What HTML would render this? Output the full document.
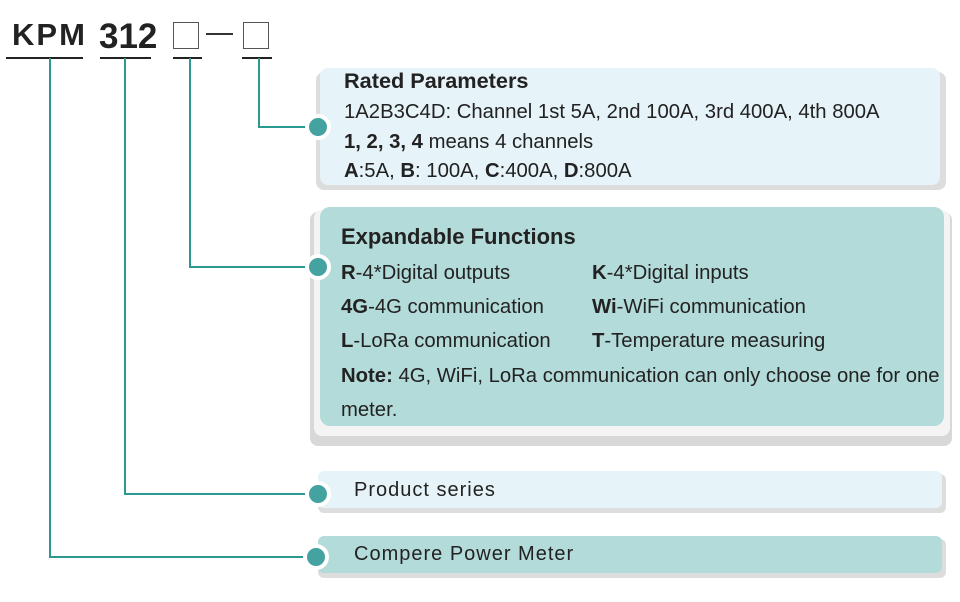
<!DOCTYPE html>
<html><head><meta charset="utf-8"><style>
body{margin:0;width:960px;height:602px;background:#fff;position:relative;overflow:hidden;font-family:"Liberation Sans",sans-serif;color:#222}
.a{position:absolute}
.t{position:absolute;white-space:nowrap;font-size:20.3px;line-height:22px}
.dot{position:absolute;width:18px;height:18px;border-radius:50%;background:#44a3a0;border:4px solid #fff;box-sizing:content-box}
.ln{position:absolute;background:#2a9a90}
.ul{position:absolute;background:#222;height:2px}
</style></head><body>
<!-- header -->
<div class="t" style="left:12px;top:18px;font-size:31px;line-height:34px;font-weight:bold;letter-spacing:2px">KPM</div>
<div class="t" style="left:99px;top:18px;font-size:35px;line-height:38px;font-weight:bold">312</div>
<div class="a" style="left:173px;top:22px;width:24px;height:25px;border:1.5px solid #555"></div>
<div class="a" style="left:206px;top:33px;width:27px;height:2px;background:#333"></div>
<div class="a" style="left:243px;top:22px;width:24px;height:25px;border:1.5px solid #555"></div>
<div class="ul" style="left:6px;top:57px;width:77px"></div>
<div class="ul" style="left:100px;top:57px;width:51px"></div>
<div class="ul" style="left:173px;top:57px;width:29px"></div>
<div class="ul" style="left:242px;top:57px;width:30px"></div>
<!-- connectors -->
<div class="ln" style="left:49px;top:58px;width:2px;height:500px"></div>
<div class="ln" style="left:49px;top:556px;width:265px;height:2px"></div>
<div class="ln" style="left:124px;top:58px;width:2px;height:437px"></div>
<div class="ln" style="left:124px;top:493px;width:190px;height:2px"></div>
<div class="ln" style="left:189px;top:58px;width:2px;height:210px"></div>
<div class="ln" style="left:189px;top:266px;width:125px;height:2px"></div>
<div class="ln" style="left:258px;top:58px;width:2px;height:70px"></div>
<div class="ln" style="left:258px;top:126px;width:56px;height:2px"></div>
<!-- box1 -->
<div class="a" style="left:316px;top:72px;width:630px;height:118px;background:#ddd;border-radius:8px"></div>
<div class="a" style="left:320px;top:68px;width:620px;height:117px;background:#e6f3f9;border-radius:8px"></div>
<div class="t" style="left:344px;top:70px;font-weight:bold;font-size:21.7px">Rated Parameters</div>
<div class="t" style="left:344px;top:101px">1A2B3C4D: Channel 1st 5A, 2nd 100A, 3rd 400A, 4th 800A</div>
<div class="t" style="left:344px;top:131px"><b>1, 2, 3, 4</b> means 4 channels</div>
<div class="t" style="left:344px;top:160px"><b>A</b>:5A, <b>B</b>: 100A, <b>C</b>:400A, <b>D</b>:800A</div>
<!-- box2 -->
<div class="a" style="left:310px;top:212px;width:642px;height:234px;background:#d8d8d8;border-radius:8px"></div>
<div class="a" style="left:314px;top:210px;width:636px;height:226px;background:#f4f4f4;border-radius:8px"></div>
<div class="a" style="left:320px;top:207px;width:624px;height:219px;background:#b3dbd9;border-radius:10px"></div>
<div class="t" style="left:341px;top:226px;font-weight:bold;font-size:22px">Expandable Functions</div>
<div class="t" style="left:341px;top:262px"><b>R</b>-4*Digital outputs</div>
<div class="t" style="left:592px;top:262px"><b>K</b>-4*Digital inputs</div>
<div class="t" style="left:341px;top:296px"><b>4G</b>-4G communication</div>
<div class="t" style="left:592px;top:296px"><b>Wi</b>-WiFi communication</div>
<div class="t" style="left:341px;top:330px"><b>L</b>-LoRa communication</div>
<div class="t" style="left:592px;top:330px"><b>T</b>-Temperature measuring</div>
<div class="t" style="left:341px;top:365px"><b>Note:</b> 4G, WiFi, LoRa communication can only choose one for one</div>
<div class="t" style="left:341px;top:399px">meter.</div>
<!-- box3 -->
<div class="a" style="left:318px;top:474px;width:628px;height:39px;background:#ddd;border-radius:6px"></div>
<div class="a" style="left:318px;top:471px;width:624px;height:37px;background:#e6f3f9;border-radius:6px"></div>
<div class="t" style="left:354px;top:479px;font-size:20px;letter-spacing:1px">Product series</div>
<!-- box4 -->
<div class="a" style="left:318px;top:539px;width:628px;height:39px;background:#ddd;border-radius:6px"></div>
<div class="a" style="left:318px;top:536px;width:624px;height:37px;background:#b3dbd9;border-radius:6px"></div>
<div class="t" style="left:354px;top:543px;font-size:20px;letter-spacing:1px">Compere Power Meter</div>
<!-- dots -->
<div class="dot" style="left:305px;top:114px"></div>
<div class="dot" style="left:305px;top:254px"></div>
<div class="dot" style="left:305px;top:481px"></div>
<div class="dot" style="left:303px;top:544px"></div>
</body></html>
